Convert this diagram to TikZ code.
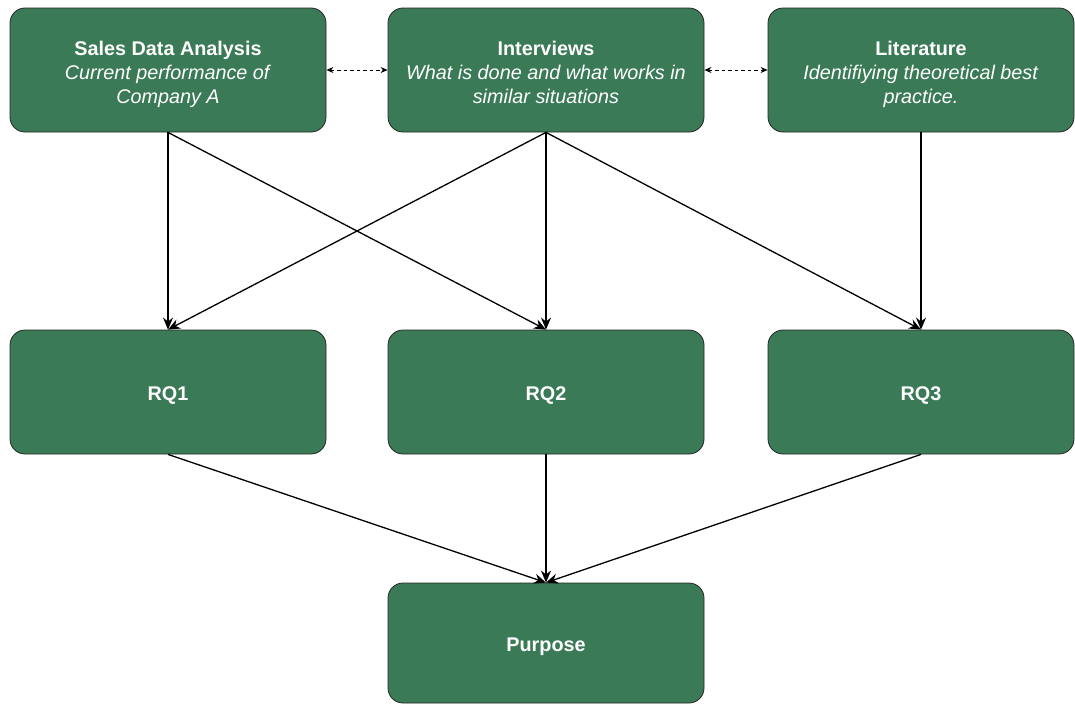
\documentclass[tikz,border=0pt]{standalone}
\usepackage{fontspec}
\setmainfont{Liberation Sans}
\usetikzlibrary{arrows.meta}
\definecolor{boxgreen}{HTML}{3B7A57}

\begin{document}
\begin{tikzpicture}[x=1pt,y=-1pt,
    box/.style={draw=black!85,line width=0.8pt,fill=boxgreen,rounded corners=15pt,
      minimum width=316pt,minimum height=124pt,inner sep=0pt,text=white,
      align=center,font=\fontsize{19.8}{24}\selectfont},
    multi/.style={box,text height=73pt,text depth=7pt},
    single/.style={box,text height=16pt,text depth=0pt},
    link/.style={line width=1.3pt,-{Stealth[length=12pt,width=10pt]}},
    side/.style={line width=0.9pt,dash pattern=on 3.5pt off 3pt,
      {Stealth[length=7pt,width=6pt]}-{Stealth[length=7pt,width=6pt]}}]
    \useasboundingbox (0,0) rectangle (1075,704);
    % sources
    \node[multi] (sales) at (168,70) {\textbf{Sales Data Analysis}\\\textit{Current performance of}\\\textit{Company A}};
    \node[multi] (inter) at (546,70) {\textbf{Interviews}\\\textit{What is done and what works in}\\\textit{similar situations}};
    \node[multi,minimum width=306pt] (lit) at (921,70) {\textbf{Literature}\\\textit{Identifiying theoretical best}\\\textit{practice.}};
    % research questions
    \node[single] (rq1) at (168,392) {\textbf{RQ1}};
    \node[single] (rq2) at (546,392) {\textbf{RQ2}};
    \node[single,minimum width=306pt] (rq3) at (921,392) {\textbf{RQ3}};
    \node[single,minimum height=120pt] (purp) at (546,643) {\textbf{Purpose}};
    % links
    \draw[side] (sales.east) -- (inter.west);
    \draw[side] (inter.east) -- (lit.west);
    \draw[link] (sales.south) -- (rq1.north);
    \draw[link] (sales.south) -- (rq2.north);
    \draw[link] (inter.south) -- (rq1.north);
    \draw[link] (inter.south) -- (rq2.north);
    \draw[link] (inter.south) -- (rq3.north);
    \draw[link] (lit.south) -- (rq3.north);
    \draw[link] (rq1.south) -- (purp.north);
    \draw[link] (rq2.south) -- (purp.north);
    \draw[link] (rq3.south) -- (purp.north);
\end{tikzpicture}
\end{document}
